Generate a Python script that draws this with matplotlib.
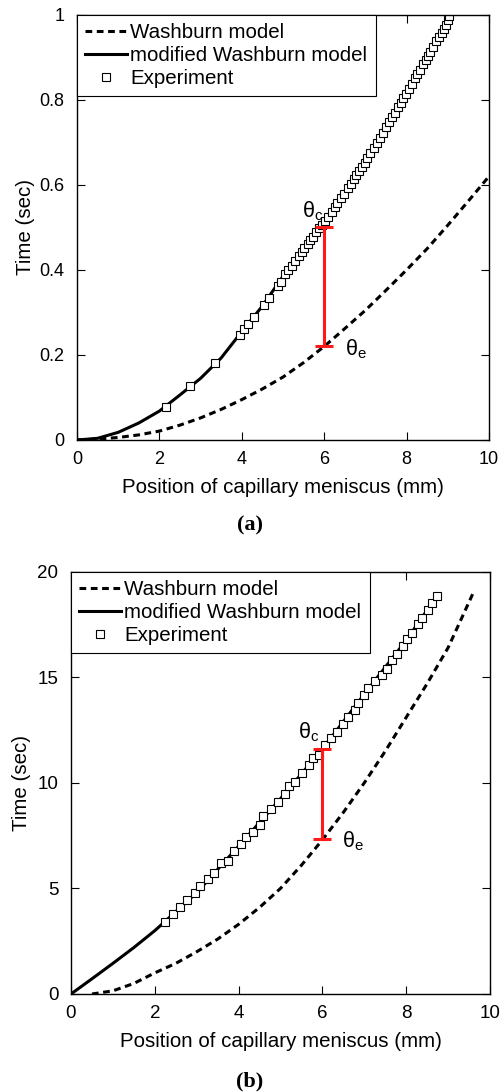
import matplotlib
matplotlib.use("Agg")
import matplotlib.pyplot as plt

plt.rcParams['font.family'] = ['Liberation Sans', 'DejaVu Sans']

# ---------------- Panel (a) data ----------------
wash_a_x = [0, 0.5, 1, 1.5, 2, 2.5, 3, 3.5, 4, 4.5, 5, 5.5, 6, 6.5, 7, 7.5, 8, 8.5, 9, 9.5, 10]
wash_a_t = [0, 0.002, 0.006, 0.012, 0.021, 0.035, 0.052, 0.072, 0.095, 0.120, 0.148,
            0.182, 0.220, 0.262, 0.305, 0.352, 0.400, 0.450, 0.505, 0.562, 0.620]

mod_a_x = [0, 0.5, 1, 1.5, 2, 2.5, 3, 3.5, 4, 4.5, 5, 5.5, 6, 6.5, 7, 7.5, 8, 8.5, 9]
mod_a_t = [0, 0.004, 0.018, 0.040, 0.068, 0.106, 0.145, 0.193, 0.255, 0.315, 0.385,
           0.450, 0.515, 0.585, 0.655, 0.735, 0.815, 0.900, 0.988]

exp_a_x = [2.15, 2.75, 3.35, 3.95, 4.05, 4.15, 4.30, 4.55, 4.65, 4.88, 4.95, 5.05, 5.12,
           5.22, 5.30, 5.38, 5.45, 5.52, 5.60, 5.66, 5.72, 5.80, 5.88, 5.95, 6.02, 6.10,
           6.18, 6.25, 6.32, 6.40, 6.48, 6.58, 6.65, 6.72, 6.78, 6.85, 6.92, 6.98, 7.05,
           7.12, 7.20, 7.28, 7.35, 7.42, 7.50, 7.58, 7.65, 7.72, 7.80, 7.86, 7.92, 7.98,
           8.05, 8.12, 8.20, 8.26, 8.32, 8.40, 8.46, 8.52, 8.58, 8.65, 8.72, 8.78, 8.85,
           8.90, 8.95, 9.00, 9.03]
exp_a_t = [0.078, 0.128, 0.180, 0.248, 0.262, 0.272, 0.290, 0.318, 0.333, 0.362, 0.372,
           0.390, 0.400, 0.410, 0.422, 0.432, 0.442, 0.452, 0.462, 0.470, 0.478, 0.488,
           0.498, 0.505, 0.515, 0.525, 0.537, 0.548, 0.557, 0.568, 0.578, 0.592, 0.602,
           0.613, 0.622, 0.633, 0.643, 0.652, 0.663, 0.674, 0.686, 0.699, 0.711, 0.722,
           0.735, 0.748, 0.759, 0.770, 0.783, 0.793, 0.803, 0.813, 0.825, 0.836, 0.850,
           0.860, 0.870, 0.883, 0.893, 0.903, 0.913, 0.925, 0.937, 0.947, 0.958, 0.967,
           0.976, 0.988, 0.998]

bar_a_x, bar_a_low, bar_a_high = 6.0, 0.22, 0.50

# ---------------- Panel (b) data ----------------
wash_b_x = [0.5, 1, 1.5, 2, 2.5, 3, 3.5, 4, 4.5, 5, 5.5, 6, 6.5, 7, 7.5, 8, 8.5, 9, 9.6]
wash_b_t = [0, 0.15, 0.5, 1.0, 1.45, 2.0, 2.6, 3.3, 4.1, 5.0, 6.1, 7.3, 8.6, 10.0,
            11.5, 13.1, 14.7, 16.4, 19.0]

mod_b_x = [0, 0.5, 1, 1.5, 2, 2.24, 3, 4, 5, 6, 7, 8, 8.7]
mod_b_t = [0, 0.72, 1.45, 2.2, 3.0, 3.43, 4.8, 7.0, 9.25, 11.6, 14.2, 16.75, 18.75]

exp_b_x = [2.24, 2.44, 2.60, 2.78, 2.96, 3.08, 3.28, 3.41, 3.58, 3.74, 3.90, 4.05, 4.18,
           4.35, 4.51, 4.59, 4.78, 4.95, 5.11, 5.21, 5.35, 5.51, 5.68, 5.78, 5.93, 6.06,
           6.20, 6.34, 6.48, 6.62, 6.78, 6.86, 7.00, 7.10, 7.26, 7.42, 7.53, 7.65, 7.77,
           7.92, 8.03, 8.13, 8.27, 8.37, 8.53, 8.61, 8.73]
exp_b_t = [3.43, 3.79, 4.11, 4.45, 4.77, 5.12, 5.43, 5.75, 6.19, 6.32, 6.78, 7.10, 7.42,
           7.69, 8.01, 8.42, 8.78, 9.11, 9.48, 9.83, 10.06, 10.46, 10.85, 11.20, 11.33,
           11.80, 12.12, 12.43, 12.78, 13.10, 13.46, 13.78, 14.17, 14.49, 14.80, 15.12,
           15.39, 15.80, 16.10, 16.50, 16.80, 17.10, 17.50, 17.80, 18.20, 18.50, 18.83]

bar_b_x, bar_b_low, bar_b_high = 6.0, 7.35, 11.6

legend_labels = ["Washburn model", "modified Washburn model", "Experiment"]
xlabel = "Position of capillary meniscus (mm)"
ylabel = "Time (sec)"

fig = plt.figure(figsize=(5.0, 10.92), dpi=100)

W, H = 500.0, 1092.0


def axes_box(l, r, t, b):
    return [l / W, 1 - b / H, (r - l) / W, (b - t) / H]


def draw_panel(ax, wx, wt, mx, mt, ex, et, bx, blo, bhi, ylim, yticks, tick_fs,
               thc, the, caption, cap_y, ylabelpad):
    dash, = ax.plot(wx, wt, color='black', lw=2.2, linestyle=(0, (2.2, 1.5)),
                    label=legend_labels[0])
    solid, = ax.plot(mx, mt, color='black', lw=2.2, label=legend_labels[1])
    mk, = ax.plot(ex, et, linestyle='none', marker='s', ms=6, mfc='white',
                  mec='black', mew=0.8, label=legend_labels[2])
    ax.errorbar([bx], [(blo + bhi) / 2], yerr=[[(bhi - blo) / 2], [(bhi - blo) / 2]],
                fmt='none', ecolor='#ff1a1a', elinewidth=2.2, capsize=6.5,
                capthick=2.2, zorder=5)
    ax.text(thc[0], thc[1], 'θ$_{\\mathregular{c}}$', fontsize=15.5, ha='left',
            va='baseline')
    ax.text(the[0], the[1], 'θ$_{\\mathregular{e}}$', fontsize=15.5, ha='left',
            va='baseline')
    ax.set_xlim(0, 10)
    ax.set_ylim(*ylim)
    ax.set_xticks([0, 2, 4, 6, 8, 10])
    ax.set_yticks(yticks)
    ax.tick_params(direction='in', length=6, width=0.8, top=True, right=True,
                   labelsize=tick_fs)
    ax.tick_params(axis='x', pad=8)
    ax.tick_params(axis='y', pad=9)
    for s in ax.spines.values():
        s.set_linewidth(1.0)
    ax.set_xlabel(xlabel, fontsize=14.8, labelpad=7)
    ax.set_ylabel(ylabel, fontsize=14.8, labelpad=ylabelpad)
    leg = ax.legend(handles=[dash, solid, mk], loc='upper left',
                    bbox_to_anchor=(0, 1), borderaxespad=0, fontsize=14.8,
                    fancybox=False, frameon=True, edgecolor='black',
                    framealpha=1, handlelength=2.05, handletextpad=0.15,
                    labelspacing=0.2, borderpad=0.4, numpoints=1)
    leg.get_frame().set_linewidth(0.8)
    fig.text(0.5, 1 - cap_y / H, caption, ha='center', va='center',
             fontsize=16, fontweight='bold', family='Liberation Serif')


ax_a = fig.add_axes(axes_box(77, 489, 14.7, 440))
draw_panel(ax_a, wash_a_x, wash_a_t, mod_a_x, mod_a_t, exp_a_x, exp_a_t,
           bar_a_x, bar_a_low, bar_a_high, (0, 1), [0, 0.2, 0.4, 0.6, 0.8, 1],
           13, (5.45, 0.524), (6.5, 0.20), '(a)', 525, 3)
ax_a.set_yticklabels(['0', '0.2', '0.4', '0.6', '0.8', '1'])

ax_b = fig.add_axes(axes_box(71, 490, 571.7, 994))
draw_panel(ax_b, wash_b_x, wash_b_t, mod_b_x, mod_b_t, exp_b_x, exp_b_t,
           bar_b_x, bar_b_low, bar_b_high, (0, 20), [0, 5, 10, 15, 20],
           13.5, (5.42, 12.1), (6.47, 6.96), '(b)', 1081, 5)

fig.savefig("out.png", dpi=100)
